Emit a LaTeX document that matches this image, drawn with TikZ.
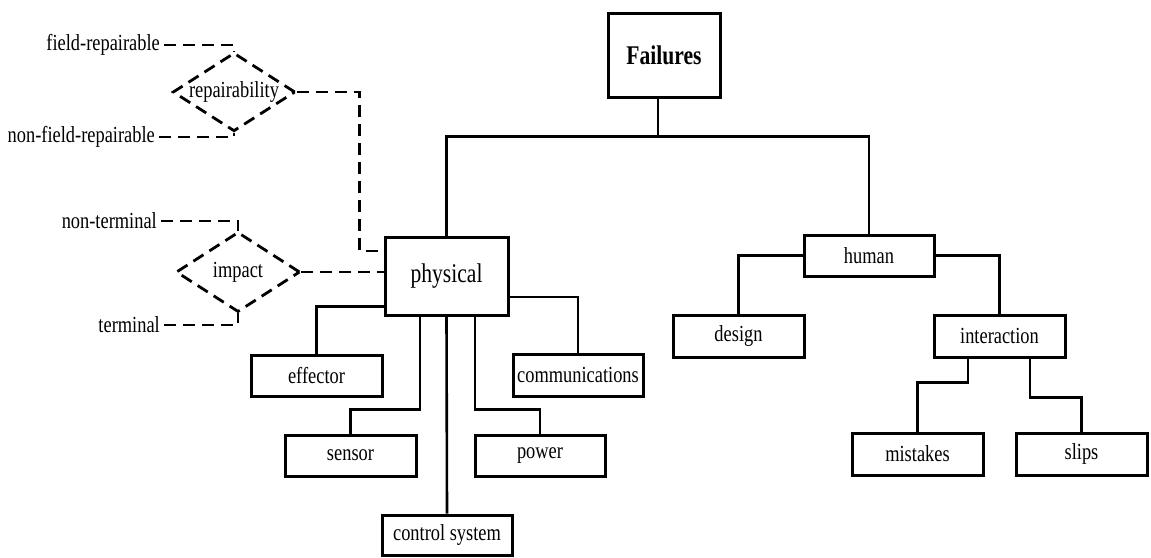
\documentclass[tikz,border=0pt]{standalone}
\usepackage{fontspec}
\setmainfont{Liberation Serif}[FakeStretch=0.8]
\usetikzlibrary{shapes.geometric,calc}
\tikzset{
  box/.style={draw, line width=3pt, rectangle, inner sep=0pt, font=\fontsize{23}{26}\selectfont},
  conn/.style={line width=2.6pt},
  dconn/.style={line width=2.8pt, dash pattern=on 12pt off 7pt},
  dia/.style={draw, diamond, line width=2.8pt, dash pattern=on 12pt off 7pt, inner sep=0pt, font=\fontsize{23}{26}\selectfont},
  lbl/.style={anchor=east, inner sep=0pt, font=\fontsize{23}{26}\selectfont},
}
\begin{document}
\begin{tikzpicture}[x=1pt,y=-1pt]
\useasboundingbox (0,0) rectangle (1151,557);
% boxes
\node[box, minimum width=112, minimum height=84, font=\fontsize{27}{30}\selectfont\bfseries] (fail) at (664,55) {Failures};
\node[box, minimum width=123, minimum height=78, font=\fontsize{27}{30}\selectfont] (phys) at (446.5,276) {physical};
\node[box, minimum width=131, minimum height=41] (eff) at (316.5,375.5) {effector};
\node[box, minimum width=130, minimum height=42] (comm) at (578,375) {communications};
\node[box, minimum width=131, minimum height=41] (sens) at (350.5,455.5) {sensor};
\node[box, minimum width=130, minimum height=41] (pow) at (540,455.5) {power};
\node[box, minimum width=130, minimum height=40] (ctrl) at (447,535) {control system};
\node[box, minimum width=130, minimum height=41] (hum) at (869,255.5) {human};
\node[box, minimum width=131, minimum height=42] (des) at (738.5,336) {design};
\node[box, minimum width=131, minimum height=42] (inter) at (999.5,336) {interaction};
\node[box, minimum width=131, minimum height=42] (mist) at (917.5,454) {mistakes};
\node[box, minimum width=131, minimum height=42] (slips) at (1081.5,454) {slips};
% diamonds
\node[dia, minimum width=122, minimum height=78, shape aspect=1.56] (rep) at (234,92) {repairability};
\node[dia, minimum width=124, minimum height=80, shape aspect=1.55] (imp) at (238,272) {impact};
% side labels
\node[lbl] (fr) at (160,45) {field-repairable};
\node[lbl] (nfr) at (155,137) {non-field-repairable};
\node[lbl] (nt) at (157,221) {non-terminal};
\node[lbl] (term) at (160,325) {terminal};
% solid connectors
\draw[conn] ([xshift=-6pt]fail.south) -- ++(0,38) coordinate (j);
\draw[conn] (phys.north) |- (j) -| (hum.north);
\draw[conn] ($(phys.south west)+(0,-10)$) -| (eff.north);
\draw[conn] ($(phys.south)+(-26.5,0)$) -- ++(0,93) -| (sens.north);
\draw[conn] (phys.south) -- (ctrl.north);
\draw[conn] ($(phys.south)+(28.5,0)$) -- ++(0,93) -| (pow.north);
\draw[conn] ($(phys.east)+(0,21)$) -| (comm.north);
\draw[conn] (hum.west) -| (des.north);
\draw[conn] (hum.east) -| (inter.north);
\draw[conn] ($(inter.south)+(-31.5,0)$) -- ++(0,24) -| (mist.north);
\draw[conn] ($(inter.south)+(30.5,0)$) -- ++(0,39) -| (slips.north);
% dashed connectors
\draw[dconn] ([xshift=4pt]fr.east) -| (rep.north);
\draw[dconn] ([xshift=4pt]nfr.east) -| (rep.south);
\draw[dconn] (rep.east) -- ++(63,0) |- ($(phys.west)+(0,-25)$);
\draw[dconn] (imp.east) -- (imp.east -| phys.west);
\draw[dconn] ([xshift=4pt]nt.east) -| (imp.north);
\draw[dconn] ([xshift=4pt]term.east) -| (imp.south);
\end{tikzpicture}
\end{document}
